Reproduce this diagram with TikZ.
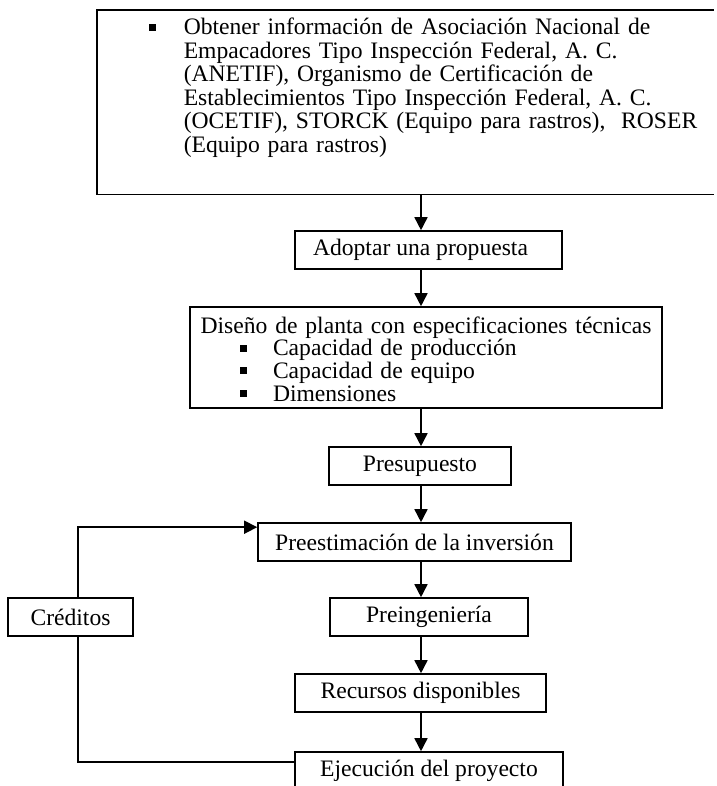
\documentclass[tikz,border=0pt]{standalone}
\usepackage{fontspec}
\setmainfont{Liberation Serif}
\usetikzlibrary{arrows.meta}
\newcommand{\sqbul}{\rule[4pt]{7pt}{7pt}}
\begin{document}
\begin{tikzpicture}[x=1pt,y=-1pt,
  line width=1.6pt,
  txt/.style={font=\fontsize{23.6}{23.5}\selectfont},
  box/.style={draw, txt, inner sep=0pt, align=center},
  arr/.style={-{Triangle[width=13pt,length=13pt]}}]
\useasboundingbox (0,0) rectangle (716,786);

% top box (right side cut off)
\node[txt, anchor=north west, inner sep=0pt, text width=615pt, align=left] (top) at (97,10)
 {\hspace*{51.5pt}\sqbul\hspace*{27.5pt}\rule{0pt}{24pt}Obtener información de Asociación Nacional de\\
  \hspace*{86pt}Empacadores Tipo Inspección Federal, A. C.\\
  \hspace*{86pt}(ANETIF), Organismo de Certificación de\\
  \hspace*{86pt}Establecimientos Tipo Inspección Federal, A. C.\\
  \hspace*{86pt}(OCETIF), STORCK (Equipo para rastros), \ ROSER\\
  \hspace*{86pt}(Equipo para rastros)\rule[-41.5pt]{0pt}{41.5pt}};
\draw (top.north east) -- (top.north west) -- (top.south west) -- (top.south east);

\node[box, minimum width=267pt, minimum height=38pt] (adopt) at (428.5,250)
  {Adoptar una propuesta\hspace*{16pt}};

\node[draw, inner sep=0pt, font=\fontsize{23.6}{22.7}\selectfont, text width=472pt, align=left] (dis) at (426,357.5)
 {\makebox[472pt][c]{\rule{0pt}{26pt}Diseño de planta con especificaciones técnicas}\\
  \hspace*{49.5pt}\sqbul\hspace*{26.5pt}Capacidad de producción\\
  \hspace*{49.5pt}\sqbul\hspace*{26.5pt}Capacidad de equipo\\
  \hspace*{49.5pt}\sqbul\hspace*{26.5pt}Dimensiones\rule[-6.9pt]{0pt}{6.9pt}};

\node[box, minimum width=182pt, minimum height=38pt] (pres) at (420,466) {Presupuesto};
\node[box, minimum width=313pt, minimum height=38pt] (pree) at (414.5,542) {Preestimación de la inversión};
\node[box, minimum width=198pt, minimum height=38pt] (prei) at (429,617) {Preingeniería};
\node[box, minimum width=125pt, minimum height=38pt] (cred) at (70.5,617) {Créditos};
\node[box, minimum width=251pt, minimum height=38pt] (recu) at (420.5,693) {Recursos disponibles};
\node[box, minimum width=268pt, minimum height=37pt] (ejec) at (429,770.5) {Ejecución del proyecto};

\coordinate (ax) at (421,0);
\coordinate (cx) at (78,0);

\draw[arr] (top.south -| ax) -- (adopt.north -| ax);
\draw[arr] (adopt.south -| ax) -- (dis.north -| ax);
\draw[arr] (dis.south -| ax) -- (pres.north -| ax);
\draw[arr] (pres.south -| ax) -- (pree.north -| ax);
\draw[arr] (pree.south -| ax) -- (prei.north -| ax);
\draw[arr] (prei.south -| ax) -- (recu.north -| ax);
\draw[arr] (recu.south -| ax) -- (ejec.north -| ax);

\draw[arr] (cred.north -| cx) |- ([yshift=-5pt]pree.north west);
\draw (cred.south -| cx) |- ([yshift=-11pt]ejec.north west);
\end{tikzpicture}
\end{document}
